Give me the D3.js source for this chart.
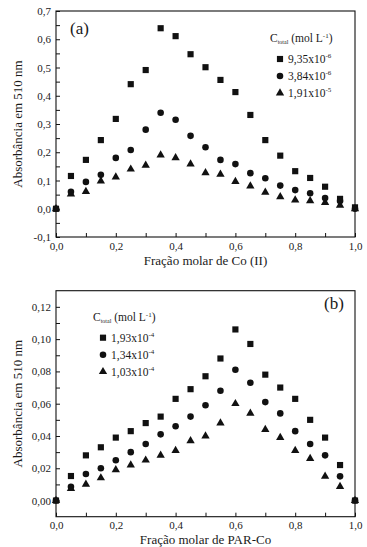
<!DOCTYPE html>
<html>
<head>
<meta charset="utf-8">
<script src="https://cdn.jsdelivr.net/npm/d3@7"></script>
<style>
  body { margin: 0; background: #fff; }
  svg, svg text { font-family: "Liberation Serif", "Times New Roman", Times, "DejaVu Serif", serif; }
  svg text { fill: #1a1a1a; }
  .frame { fill: none; stroke: #111; stroke-width: 1.1; }
  .axis .domain { display: none; }
  .axis line { stroke: #111; stroke-width: 1; }
  .axis text { font-size: 11px; font-family: "Liberation Serif", "Times New Roman", serif; }
</style>
</head>
<body>
<div class="chart"></div>
<script>
// x,y,width,height
var width = 367;
var height = 547;

// shared x values (mole fraction)
var fractions = [0, 0.05, 0.1, 0.15, 0.2, 0.25, 0.3, 0.35, 0.4, 0.45, 0.5,
                 0.55, 0.6, 0.65, 0.7, 0.75, 0.8, 0.85, 0.9, 0.95, 1.0];

// panel (a) - Co (II)
var aSquares   = [0, 0.116, 0.173, 0.243, 0.318, 0.441, 0.491, 0.639, 0.611, 0.547, 0.501,
                  0.456, 0.413, 0.332, 0.243, 0.188, 0.133, 0.109, 0.078, 0.035, 0.005];
var aCircles   = [0, 0.060, 0.095, 0.120, 0.180, 0.208, 0.280, 0.340, 0.315, 0.258, 0.218,
                  0.173, 0.158, 0.126, 0.108, 0.082, 0.066, 0.055, 0.038, 0.027, 0];
var aTriangles = [0, 0.052, 0.061, 0.098, 0.112, 0.140, 0.154, 0.190, 0.180, 0.158, 0.127,
                  0.122, 0.096, 0.080, 0.058, 0.042, 0.031, 0.028, 0.022, 0.012, 0];
var aLegend = [["9,35x10", "-6"], ["3,84x10", "-6"], ["1,91x10", "-5"]];
var aYTicks = [-0.1, 0, 0.1, 0.2, 0.3, 0.4, 0.5, 0.6, 0.7];

// panel (b) - PAR-Co
var bSquares   = [0, 0.0152, 0.028, 0.033, 0.039, 0.043, 0.048, 0.052, 0.063, 0.069, 0.077,
                  0.088, 0.106, 0.097, 0.078, 0.070, 0.063, 0.050, 0.039, 0.022, 0];
var bCircles   = [0, 0.0086, 0.0165, 0.020, 0.025, 0.030, 0.035, 0.041, 0.046, 0.052, 0.059,
                  0.068, 0.081, 0.073, 0.061, 0.054, 0.043, 0.035, 0.028, 0.015, 0];
var bTriangles = [0, 0.0074, 0.010, 0.014, 0.019, 0.022, 0.025, 0.028, 0.031, 0.037, 0.040,
                  0.048, 0.060, 0.054, 0.044, 0.039, 0.031, 0.026, 0.015, 0.0086, 0];
var bLegend = [["1,93x10", "-4"], ["1,34x10", "-4"], ["1,03x10", "-4"]];
var bYTicks = [0, 0.02, 0.04, 0.06, 0.08, 0.10, 0.12];

var xTicks = [0, 0.2, 0.4, 0.6, 0.8, 1.0];

const svg = d3.select(".chart")
              .append("svg")
              .attr("width", width)
              .attr("height", height)
              .attr("font-family", "Liberation Serif, serif");

var symbols = [d3.symbolSquare, d3.symbolCircle, d3.symbolTriangle];
var symSizes = [38, 34, 30];

function comma(fmt) {
  var f = d3.format(fmt);
  return d => f(d).replace(".", ",").replace("−", "-");
}

function drawPanel(opt) {
  var g = svg.append("g")
             .attr("transform", "translate(" + opt.left + "," + opt.top + ")");
  var w = 299, h = 226;

  var x = d3.scaleLinear().domain([0, 1]).range([0, w]);
  var y = d3.scaleLinear().domain(opt.yDomain).range([h, 0]);

  // minor ticks (inward, no labels)
  var step = opt.yTicks[1] - opt.yTicks[0];
  var yMinor = opt.yTicks.map(d => d + step / 2).filter(d => d < opt.yDomain[1] - 1e-9);
  var xMinor = xTicks.slice(0, -1).map(d => d + 0.1);

  g.append("g").attr("class", "axis")
   .call(d3.axisLeft(y).tickValues(yMinor).tickSize(-4).tickFormat(""));
  g.append("g").attr("class", "axis")
   .attr("transform", "translate(0," + h + ")")
   .call(d3.axisBottom(x).tickValues(xMinor).tickSize(-4).tickFormat(""));

  g.append("g").attr("class", "axis")
   .call(d3.axisLeft(y).tickValues(opt.yTicks).tickSize(-4).tickPadding(5)
           .tickFormat(comma(opt.yFmt)));
  g.append("g").attr("class", "axis")
   .attr("transform", "translate(0," + h + ")")
   .call(d3.axisBottom(x).tickValues(xTicks).tickSize(-4).tickPadding(5)
           .tickFormat(comma(".1f")));
  g.selectAll(".axis text").attr("font-family", "Liberation Serif, serif");

  g.append("rect").attr("class", "frame")
   .attr("x", 0).attr("y", 0).attr("width", w).attr("height", h);

  // markers
  opt.series.forEach((vals, si) => {
    g.append("g").selectAll("path")
     .data(vals)
     .enter()
     .append("path")
     .attr("d", d3.symbol().type(symbols[si]).size(symSizes[si]))
     .attr("transform", (d, i) => "translate(" + x(fractions[i]) + "," + y(d) + ")")
     .attr("fill", "#111");
  });

  // axis titles
  g.append("text")
   .attr("x", w / 2).attr("y", h + opt.xTitleDy)
   .attr("text-anchor", "middle")
   .style("font-size", "13px")
   .text(opt.xTitle);
  g.append("text")
   .attr("transform", "translate(" + (-34) + "," + (h / 2) + ") rotate(-90)")
   .attr("text-anchor", "middle")
   .style("font-size", "13px")
   .text("Absorbância em 510 nm");

  // panel label
  g.append("text")
   .attr("x", opt.labelPos[0]).attr("y", opt.labelPos[1])
   .style("font-size", "17px")
   .text(opt.label);

  // legend
  var lg = g.append("g").attr("transform", "translate(" + opt.legendPos[0] + "," + opt.legendPos[1] + ")");
  var head = lg.append("text").attr("x", 0).attr("y", 0).style("font-size", "11.5px");
  head.append("tspan").text("C");
  head.append("tspan").attr("dy", 2).style("font-size", "6px").text("total");
  head.append("tspan").attr("dy", -2).text(" (mol L");
  head.append("tspan").attr("dy", -4).style("font-size", "7px").text("-1");
  head.append("tspan").attr("dy", 4).text(")");

  opt.legend.forEach((lab, i) => {
    var ry = 21 + i * 17;
    lg.append("path")
      .attr("d", d3.symbol().type(symbols[i]).size(symSizes[i]))
      .attr("transform", "translate(" + 10 + "," + (ry - 4) + ")")
      .attr("fill", "#111");
    var t = lg.append("text").attr("x", 18).attr("y", ry).style("font-size", "11.5px");
    t.append("tspan").text(lab[0]);
    t.append("tspan").attr("dy", -5).style("font-size", "7px").text(lab[1]);
  });
}

drawPanel({
  left: 56, top: 11,
  yDomain: [-0.1, 0.7], yTicks: aYTicks, yFmt: ".1f",
  series: [aSquares, aCircles, aTriangles],
  xTitle: "Fração molar de Co (II)", xTitleDy: 28,
  label: "(a)", labelPos: [14, 23],
  legend: aLegend, legendPos: [214, 31]
});

drawPanel({
  left: 56, top: 290.7,
  yDomain: [-0.01, 0.13], yTicks: bYTicks, yFmt: ".2f",
  series: [bSquares, bCircles, bTriangles],
  xTitle: "Fração molar de PAR-Co", xTitleDy: 27.5,
  label: "(b)", labelPos: [268, 18],
  legend: bLegend, legendPos: [37, 30]
});
</script>
</body>
</html>
